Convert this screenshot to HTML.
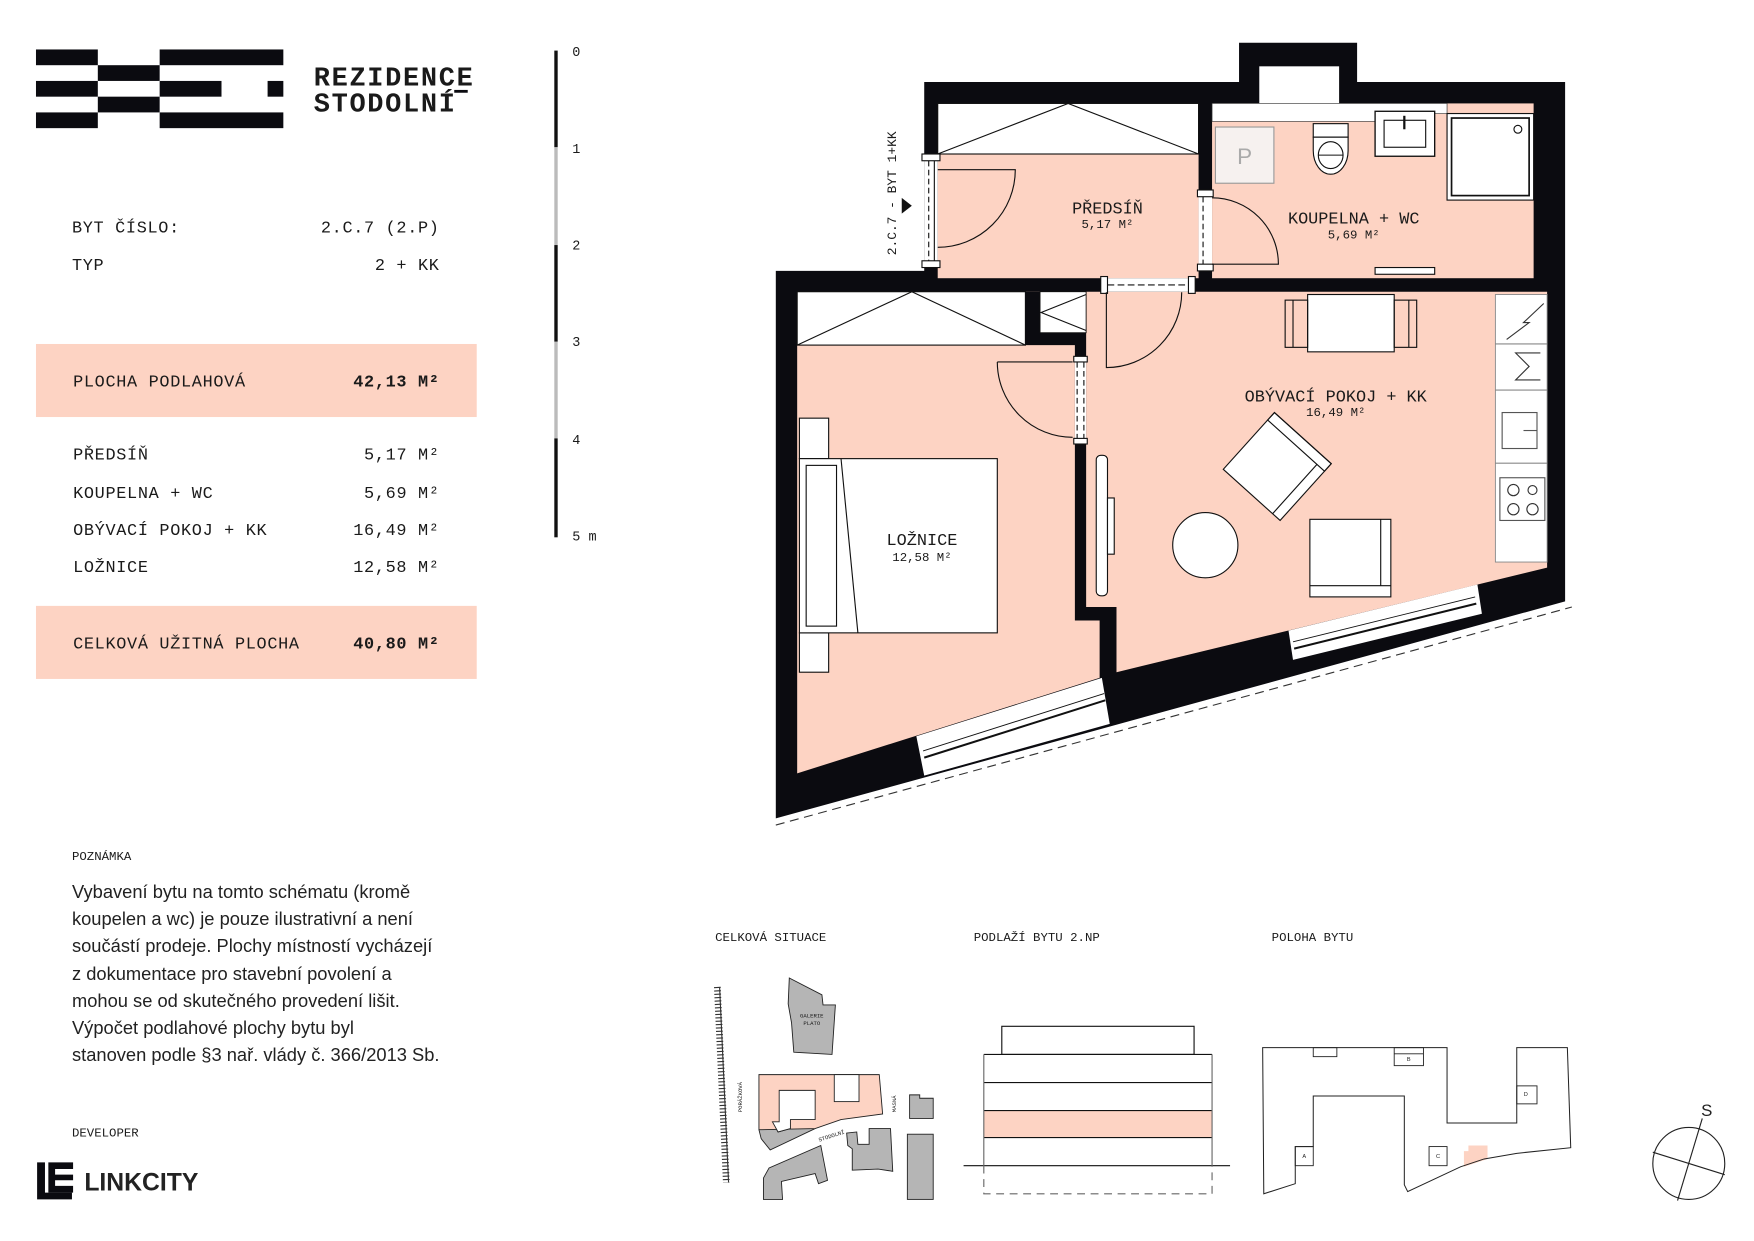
<!DOCTYPE html>
<html><head><meta charset="utf-8"><style>
html,body{margin:0;padding:0;background:#fff;}
svg{display:block;}
.m{font-family:"Liberation Mono",monospace;fill:#1a1a1a;}
.s{font-family:"Liberation Sans",sans-serif;fill:#222;}
</style></head><body>
<svg width="1754" height="1241" viewBox="0 0 1560 1104" preserveAspectRatio="none" xmlns="http://www.w3.org/2000/svg">
<rect width="1560" height="1104" fill="#fff"/>
<!-- logo -->
<g fill="#0b0b10">
<rect x="32" y="44" width="55" height="14"/><rect x="142" y="44" width="110" height="14"/>
<rect x="87" y="58" width="55" height="14"/>
<rect x="32" y="72" width="55" height="14"/><rect x="142" y="72" width="55" height="14"/><rect x="238" y="72" width="14" height="14"/>
<rect x="87" y="86" width="55" height="14"/>
<rect x="32" y="100" width="55" height="14"/><rect x="142" y="100" width="110" height="14"/>
</g>
<text x="279" y="76" class="m" font-size="24" font-weight="bold" fill="#0b0b10" letter-spacing="1.5">REZIDENCE</text>
<text x="279" y="99" class="m" font-size="24" font-weight="bold" fill="#0b0b10" letter-spacing="1.5">STODOLNÍ</text>
<rect x="404" y="80" width="12" height="2.5" fill="#0b0b10"/>

<!-- table -->
<g class="m" font-size="15" letter-spacing="0.6">
<text x="64" y="207">BYT ČÍSLO:</text><text x="391" y="207" text-anchor="end">2.C.7 (2.P)</text>
<text x="64" y="240">TYP</text><text x="391" y="240" text-anchor="end">2 + KK</text>
</g>
<rect x="32" y="306" width="392" height="65" fill="#fdd3c3"/>
<rect x="32" y="539" width="392" height="65" fill="#fdd3c3"/>
<g class="m" font-size="15" letter-spacing="0.6">
<text x="65" y="344">PLOCHA PODLAHOVÁ</text><text x="391" y="344" text-anchor="end" font-weight="bold">42,13 M²</text>
<text x="65" y="409">PŘEDSÍŇ</text><text x="391" y="409" text-anchor="end">5,17 M²</text>
<text x="65" y="443">KOUPELNA + WC</text><text x="391" y="443" text-anchor="end">5,69 M²</text>
<text x="65" y="476">OBÝVACÍ POKOJ + KK</text><text x="391" y="476" text-anchor="end">16,49 M²</text>
<text x="65" y="509">LOŽNICE</text><text x="391" y="509" text-anchor="end">12,58 M²</text>
<text x="65" y="577">CELKOVÁ UŽITNÁ PLOCHA</text><text x="391" y="577" text-anchor="end" font-weight="bold">40,80 M²</text>
</g>

<!-- scale -->
<rect x="493" y="45" width="3" height="86" fill="#111"/>
<rect x="493" y="131" width="3" height="87" fill="#bbb"/>
<rect x="493" y="218" width="3" height="86" fill="#111"/>
<rect x="493" y="304" width="3" height="86" fill="#bbb"/>
<rect x="493" y="390" width="3" height="88" fill="#111"/>
<g class="m" font-size="12">
<text x="509" y="50">0</text><text x="509" y="136">1</text><text x="509" y="222">2</text>
<text x="509" y="308">3</text><text x="509" y="395">4</text><text x="509" y="481">5 m</text>
</g>

<!-- note -->
<text x="64" y="765" class="m" font-size="11">POZNÁMKA</text>
<g class="s" font-size="16.3">
<text x="64" y="799">Vybavení bytu na tomto schématu (kromě</text>
<text x="64" y="823">koupelen a wc) je pouze ilustrativní a není</text>
<text x="64" y="847">součástí prodeje. Plochy místností vycházejí</text>
<text x="64" y="872">z dokumentace pro stavební povolení a</text>
<text x="64" y="896">mohou se od skutečného provedení lišit.</text>
<text x="64" y="920">Výpočet podlahové plochy bytu byl</text>
<text x="64" y="944">stanoven podle §3 nař. vlády č. 366/2013 Sb.</text>
</g>
<text x="64" y="1011" class="m" font-size="11">DEVELOPER</text>
<g fill="#0b0b10">
<path d="M33 1034h7v27h24v6h-31z"/>
<path d="M43 1034h22v6h-16v5h16v5h-16v5h16v6h-22z"/>
</g>
<text x="75" y="1059" class="s" font-size="22" font-weight="bold" fill="#0b0b10">LINKCITY</text>

<!-- FLOOR PLAN -->
<polygon points="822,73 1102,73 1102,38 1207,38 1207,73 1392,73 1392,535 690,728 690,241 822,241" fill="#0b0b10"/>
<rect x="1120" y="59" width="71" height="40" fill="#fff"/>
<!-- předsíň -->
<rect x="834" y="92" width="232" height="155.5" fill="#fdd3c3"/>
<rect x="834" y="92" width="232" height="45" fill="#fff" stroke="#111" stroke-width="1"/>
<polyline points="834,137 950,92 1066,137" fill="none" stroke="#111" stroke-width="1"/>
<!-- koupelna -->
<rect x="1078" y="92" width="286" height="155.5" fill="#fdd3c3"/>
<polygon points="1078,92 1287,92 1287,101 1230,101 1230,108 1078,108" fill="#fff" stroke="#333" stroke-width="0.6"/>
<rect x="1081" y="113" width="52" height="50" fill="#f6f1ef" stroke="#999" stroke-width="1"/>
<text x="1107" y="146" font-family="Liberation Sans,sans-serif" font-size="20" fill="#aaa" text-anchor="middle">P</text>
<rect x="1168" y="110" width="31" height="12" fill="#fff" stroke="#111"/>
<path d="M1168 122 v12 a15.5 21 0 0 0 31 0 v-12z" fill="#fff" stroke="#111"/>
<ellipse cx="1183.5" cy="138" rx="11" ry="12" fill="#fff" stroke="#111"/>
<line x1="1172.5" y1="138" x2="1194.5" y2="138" stroke="#111"/>
<rect x="1223" y="99" width="53" height="40" fill="#fff" stroke="#111" stroke-width="1.2"/>
<rect x="1231" y="107" width="37" height="24" fill="#fff" stroke="#111"/>
<line x1="1249" y1="103" x2="1249" y2="115" stroke="#111" stroke-width="2"/>
<rect x="1287" y="101" width="77" height="77" fill="#fff" stroke="#111" stroke-width="1"/>
<rect x="1291" y="105" width="69" height="69" fill="#fff" stroke="#111" stroke-width="1.5"/>
<circle cx="1350" cy="115" r="3.5" fill="#fff" stroke="#111"/>
<rect x="1223" y="238" width="53" height="6" fill="#fff" stroke="#111"/>
<!-- lower rooms -->
<polygon points="709,259.5 1376,259.5 1376,505 993,598 981,602 709,688" fill="#fdd3c3"/>
<rect x="709" y="259.5" width="203" height="47.5" fill="#fff" stroke="#111" stroke-width="1"/>
<polyline points="709,307 811,259.5 912,307" fill="none" stroke="#111"/>
<polygon points="912,259.5 966,259.5 966,317 956,317 956,307 912,307" fill="#0b0b10"/>
<rect x="925" y="259.5" width="41" height="36.5" fill="#fff" stroke="#111" stroke-width="0.8"/>
<polyline points="966,262 926,278 966,294" fill="none" stroke="#111"/>
<polygon points="956,317 966,317 966,540 993,540 993,600 978,604 978,552 956,552" fill="#0b0b10"/>
<!-- ložnice door -->
<rect x="956" y="320" width="10" height="72" fill="#fff"/>
<rect x="955" y="317" width="12" height="5" fill="#fff" stroke="#111"/>
<rect x="955" y="390" width="12" height="5" fill="#fff" stroke="#111"/>
<line x1="958" y1="322" x2="958" y2="390" stroke="#111" stroke-dasharray="5,3"/>
<line x1="964" y1="322" x2="964" y2="390" stroke="#111" stroke-dasharray="5,3"/>
<path d="M887 322 H954 M887 322 A67 67 0 0 0 954 389" fill="none" stroke="#111"/>
<!-- living door -->
<rect x="983" y="247.5" width="80" height="12" fill="#fff"/>
<rect x="979" y="246" width="6" height="15" fill="#fff" stroke="#111"/>
<rect x="1057" y="246" width="6" height="15" fill="#fff" stroke="#111"/>
<line x1="985" y1="253.5" x2="1057" y2="253.5" stroke="#111" stroke-dasharray="6,3"/>
<path d="M984 260 V327 A67 67 0 0 0 1051 260" fill="none" stroke="#111"/>
<!-- bath door -->
<rect x="1066" y="172" width="12" height="68" fill="#fff"/>
<rect x="1065" y="169" width="14" height="6" fill="#fff" stroke="#111"/>
<rect x="1065" y="235" width="14" height="6" fill="#fff" stroke="#111"/>
<line x1="1070" y1="175" x2="1070" y2="235" stroke="#111" stroke-dasharray="5,3"/>
<path d="M1078 176 A59 59 0 0 1 1137 235 H1078" fill="none" stroke="#111"/>
<!-- entry door -->
<rect x="822" y="140" width="12" height="98" fill="#fff"/>
<rect x="820" y="137" width="16" height="6" fill="#fff" stroke="#111"/>
<rect x="820" y="232" width="16" height="6" fill="#fff" stroke="#111"/>
<line x1="826" y1="143" x2="826" y2="232" stroke="#111" stroke-dasharray="5,3"/>
<line x1="831" y1="143" x2="831" y2="232" stroke="#111"/>
<path d="M834 151 H903 A69 69 0 0 1 834 220" fill="none" stroke="#111"/>
<!-- windows -->
<polygon points="815,655 980,603 987,644 822,690" fill="#fff"/>
<line x1="821" y1="668" x2="982" y2="617" stroke="#111" stroke-width="0.8"/>
<line x1="822" y1="674" x2="983" y2="623" stroke="#111" stroke-width="1.8"/>
<polygon points="1146,561 1314,520 1318,546 1150,587" fill="#fff"/>
<line x1="1150" y1="571" x2="1312" y2="531" stroke="#111" stroke-width="0.8"/>
<line x1="1151" y1="577" x2="1313" y2="537" stroke="#111" stroke-width="1.8"/>
<line x1="690" y1="734" x2="1398" y2="540" stroke="#333" stroke-dasharray="8,5"/>
<!-- bed -->
<rect x="711" y="372" width="26" height="36" fill="#fff" stroke="#111"/>
<rect x="711" y="563" width="26" height="35" fill="#fff" stroke="#111"/>
<rect x="711" y="408" width="176" height="155" fill="#fff" stroke="#111"/>
<rect x="717" y="414" width="27" height="143" fill="#fff" stroke="#111"/>
<line x1="748" y1="408" x2="763" y2="563" stroke="#111"/>
<!-- living furniture -->
<rect x="1163" y="262" width="77" height="51" fill="#fff" stroke="#111"/>
<rect x="1143" y="267" width="20" height="42" fill="none" stroke="#111"/>
<line x1="1150" y1="267" x2="1150" y2="309" stroke="#111"/>
<rect x="1240" y="267" width="20" height="42" fill="none" stroke="#111"/>
<line x1="1253" y1="267" x2="1253" y2="309" stroke="#111"/>
<rect x="1330" y="262" width="46" height="238" fill="#fff" stroke="#888" stroke-width="0.8"/>
<line x1="1330" y1="306" x2="1376" y2="306" stroke="#888"/>
<line x1="1330" y1="347" x2="1376" y2="347" stroke="#888"/>
<line x1="1330" y1="412" x2="1376" y2="412" stroke="#888"/>
<polyline points="1373,270 1355,287 1360,287 1340,302" fill="none" stroke="#333"/>
<polyline points="1370,314 1348,314 1360,326 1348,338 1370,338" fill="none" stroke="#333"/>
<rect x="1336" y="367" width="31" height="32" fill="#fff" stroke="#555"/>
<line x1="1355" y1="383" x2="1367" y2="383" stroke="#555"/>
<rect x="1334" y="425" width="40" height="38" fill="#fff" stroke="#555"/>
<circle cx="1346" cy="436" r="5" fill="none" stroke="#333"/><circle cx="1363" cy="436" r="4" fill="none" stroke="#333"/>
<circle cx="1346" cy="453" r="5" fill="none" stroke="#333"/><circle cx="1363" cy="453" r="5" fill="none" stroke="#333"/>
<g transform="translate(1136,415) rotate(42)">
<rect x="-34" y="-34" width="68" height="68" fill="#fff" stroke="#111"/>
<rect x="-34" y="-34" width="68" height="9" fill="none" stroke="#111"/>
<line x1="25" y1="-25" x2="25" y2="34" stroke="#111"/>
</g>
<circle cx="1072" cy="485" r="29" fill="#fff" stroke="#111"/>
<rect x="1165" y="462" width="72" height="69" fill="#fff" stroke="#111"/>
<line x1="1228" y1="462" x2="1228" y2="521" stroke="#111"/>
<line x1="1165" y1="521" x2="1237" y2="521" stroke="#111"/>
<rect x="975" y="405" width="10" height="125" rx="4" fill="#fff" stroke="#111"/>
<rect x="985" y="443" width="6" height="50" fill="#fff" stroke="#111"/>
<!-- labels -->
<g class="m" text-anchor="middle" fill="#222">
<text x="985" y="190" font-size="15">PŘEDSÍŇ</text><text x="985" y="203" font-size="11">5,17 M²</text>
<text x="1204" y="199" font-size="15">KOUPELNA + WC</text><text x="1204" y="212" font-size="11">5,69 M²</text>
<text x="1188" y="357" font-size="15">OBÝVACÍ POKOJ + KK</text><text x="1188" y="370" font-size="11">16,49 M²</text>
<text x="820" y="485" font-size="15">LOŽNICE</text><text x="820" y="499" font-size="11">12,58 M²</text>
</g>
<text transform="translate(797,172) rotate(-90)" class="m" font-size="11.5" text-anchor="middle">2.C.7 - BYT 1+KK</text>
<polygon points="802,176 811,183 802,190" fill="#111"/>

<!-- bottom maps -->
<g class="m" font-size="11">
<text x="636" y="837">CELKOVÁ SITUACE</text>
<text x="866" y="837">PODLAŽÍ BYTU 2.NP</text>
<text x="1131" y="837">POLOHA BYTU</text>
</g>
<!-- situation -->
<line x1="638" y1="878" x2="646" y2="1052" stroke="#333" stroke-width="6" stroke-dasharray="1,2"/>
<line x1="640" y1="878" x2="648" y2="1052" stroke="#333" stroke-width="1"/>
<g fill="#b5b5b5" stroke="#222" stroke-width="0.8">
<polygon points="702,870 731,885 732,894 743,894 740,938 706,936 704,910 701,893"/>
<polygon points="675,1005 687,998 692,1007 703,1004 703,996 725,996 725,1004 685,1023 677,1013"/>
<polygon points="753,1008 762,1007 763,1018 773,1018 773,1004 792,1004 794,1042 781,1040 758,1041 758,1022 754,1019"/>
<polygon points="679,1048 684,1039 730,1019 736,1050 728,1053 725,1044 695,1051 696,1067 679,1067"/>
<polygon points="809,974 818,974 818,977 830,977 830,995 809,995"/>
<rect x="807" y="1009" width="23" height="58"/>
</g>
<polygon points="675,956 782,956 785,991 748,996 725,1004 675,1005" fill="#fdd3c3" stroke="#222" stroke-width="0.8"/>
<rect x="742" y="956" width="22" height="24" fill="#fff" stroke="#222" stroke-width="0.8"/>
<polygon points="693,970 725,970 725,996 703,996 703,1004 692,1007 687,998 693,998" fill="#fff" stroke="#222" stroke-width="0.8"/>
<g class="m" font-size="5">
<text x="722" y="905" text-anchor="middle">GALERIE</text><text x="722" y="912" text-anchor="middle">PLATO</text>
<text transform="translate(660,976) rotate(-90)" text-anchor="middle">PORÁŽKOVÁ</text>
<text transform="translate(797,982) rotate(-90)" text-anchor="middle">MASNÁ</text>
<text transform="translate(740,1012) rotate(-18)" text-anchor="middle">STODOLNÍ</text>
</g>
<!-- section -->
<rect x="875" y="988" width="203" height="24" fill="#fdd3c3"/>
<g fill="none" stroke="#111" stroke-width="1">
<rect x="891" y="913" width="171" height="25"/>
<line x1="875" y1="938" x2="1078" y2="938"/>
<line x1="875" y1="963" x2="1078" y2="963"/>
<line x1="875" y1="988" x2="1078" y2="988"/>
<line x1="875" y1="1012" x2="1078" y2="1012"/>
<line x1="857" y1="1037" x2="1094" y2="1037"/>
</g>
<line x1="875" y1="938" x2="875" y2="1037" stroke="#666"/>
<line x1="1078" y1="938" x2="1078" y2="1037" stroke="#666"/>
<path d="M875 1037 V1062 H1078 V1037" fill="none" stroke="#666" stroke-dasharray="7,5"/>
<!-- poloha -->
<polygon points="1306,1019 1323,1019 1323,1031 1302,1038 1302,1024 1306,1024" fill="#fdd3c3"/>
<polygon points="1123,932 1287,932 1287,999 1349,999 1349,932 1394,932 1397,1021 1349,1026 1320,1031 1299,1038 1252,1060 1249,1054 1249,975 1168,975 1168,1020 1152,1020 1152,1053 1124,1062" fill="none" stroke="#222" stroke-width="0.9"/>
<g fill="none" stroke="#222" stroke-width="0.8">
<rect x="1168" y="932" width="21" height="8"/>
<rect x="1240" y="932" width="26" height="16"/><line x1="1240" y1="937.5" x2="1266" y2="937.5"/>
<rect x="1349" y="966" width="18" height="16"/>
<rect x="1152" y="1020" width="16" height="17"/>
<rect x="1271" y="1020" width="16" height="17"/>
</g>
<g font-family="Liberation Sans,sans-serif" font-size="5" fill="#222" text-anchor="middle">
<text x="1253" y="944">B</text><text x="1357" y="975">D</text><text x="1160" y="1030">A</text><text x="1279" y="1030">C</text>
</g>
<circle cx="1502" cy="1035" r="32" fill="none" stroke="#222" stroke-width="1"/>
<line x1="1514" y1="995" x2="1492" y2="1068" stroke="#222"/>
<line x1="1470" y1="1025" x2="1534" y2="1045" stroke="#222"/>
<text x="1513" y="993" font-family="Liberation Sans,sans-serif" font-size="15" fill="#222">S</text>
</svg>
</body></html>
